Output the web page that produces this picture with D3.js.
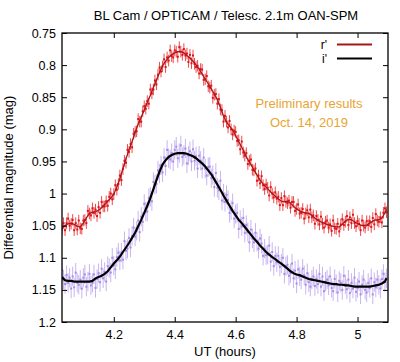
<!DOCTYPE html>
<html>
<head>
<meta charset="utf-8">
<script src="https://cdn.jsdelivr.net/npm/d3@7.9.0/dist/d3.min.js"></script>
<style>
  html, body { margin: 0; padding: 0; background: #fff; }
  svg { display: block; font-family: "Liberation Sans", Arial, sans-serif; }
</style>
</head>
<body>
<svg id="chart" width="400" height="362"></svg>
<script>
// smoothed curves, UT (hours)
const lineUT = [4.03,4.04,4.05,4.06,4.07,4.08,4.09,4.10,4.11,4.12,4.13,4.14,4.15,4.16,4.17,4.18,4.19,4.20,4.21,4.22,4.23,4.24,4.25,4.26,4.27,4.28,4.29,4.30,4.31,4.32,4.33,4.34,4.35,4.36,4.37,4.38,4.39,4.40,4.41,4.42,4.43,4.44,4.45,4.46,4.47,4.48,4.49,4.50,4.51,4.52,4.53,4.54,4.55,4.56,4.57,4.58,4.59,4.60,4.61,4.62,4.63,4.64,4.65,4.66,4.67,4.68,4.69,4.70,4.71,4.72,4.73,4.74,4.75,4.76,4.77,4.78,4.79,4.80,4.81,4.82,4.83,4.84,4.85,4.86,4.87,4.88,4.89,4.90,4.91,4.92,4.93,4.94,4.95,4.96,4.97,4.98,4.99,5.00,5.01,5.02,5.03,5.04,5.05,5.06,5.07,5.08,5.09,5.095];
const rLine = [1.053,1.050,1.047,1.046,1.048,1.051,1.052,1.046,1.038,1.031,1.029,1.028,1.026,1.022,1.017,1.012,1.007,1.001,0.990,0.977,0.961,0.946,0.932,0.919,0.905,0.892,0.881,0.870,0.858,0.847,0.835,0.823,0.812,0.801,0.794,0.788,0.784,0.781,0.779,0.779,0.781,0.785,0.789,0.794,0.800,0.806,0.814,0.822,0.829,0.837,0.845,0.854,0.866,0.879,0.889,0.895,0.901,0.910,0.919,0.928,0.938,0.947,0.955,0.963,0.971,0.979,0.985,0.990,0.995,1.000,1.004,1.008,1.012,1.013,1.012,1.015,1.020,1.024,1.027,1.029,1.030,1.031,1.034,1.038,1.042,1.044,1.046,1.048,1.050,1.051,1.052,1.052,1.048,1.043,1.040,1.041,1.044,1.047,1.049,1.050,1.049,1.046,1.043,1.041,1.041,1.038,1.030,1.024];
const iLine = [1.130,1.135,1.136,1.136,1.137,1.137,1.137,1.137,1.137,1.137,1.136,1.132,1.130,1.128,1.125,1.121,1.115,1.109,1.104,1.098,1.091,1.084,1.077,1.069,1.061,1.051,1.041,1.030,1.019,1.007,0.993,0.979,0.966,0.955,0.948,0.943,0.940,0.938,0.937,0.937,0.937,0.938,0.940,0.942,0.945,0.949,0.953,0.958,0.964,0.970,0.978,0.986,0.994,1.003,1.011,1.019,1.027,1.034,1.041,1.046,1.052,1.058,1.064,1.070,1.075,1.081,1.086,1.091,1.095,1.099,1.102,1.106,1.109,1.113,1.117,1.121,1.124,1.126,1.127,1.129,1.131,1.133,1.134,1.135,1.136,1.137,1.138,1.139,1.140,1.141,1.141,1.142,1.142,1.143,1.143,1.144,1.145,1.145,1.145,1.145,1.145,1.145,1.144,1.143,1.142,1.140,1.137,1.132,1.131];

// individual measurements
const obsUT = [4.030,4.035,4.040,4.045,4.050,4.055,4.060,4.065,4.070,4.075,4.080,4.085,4.090,4.095,4.100,4.105,4.110,4.115,4.120,4.125,
  4.130,4.135,4.140,4.145,4.150,4.155,4.160,4.165,4.170,4.175,4.180,4.185,4.190,4.195,4.200,4.205,4.210,4.215,4.220,4.225,
  4.230,4.235,4.240,4.245,4.250,4.255,4.260,4.265,4.270,4.275,4.280,4.285,4.290,4.295,4.300,4.305,4.310,4.315,4.320,4.325,
  4.330,4.335,4.340,4.345,4.350,4.355,4.360,4.365,4.370,4.375,4.380,4.385,4.390,4.395,4.400,4.405,4.410,4.415,4.420,4.425,
  4.430,4.435,4.440,4.445,4.450,4.455,4.460,4.465,4.470,4.475,4.480,4.485,4.490,4.495,4.500,4.505,4.510,4.515,4.520,4.525,
  4.530,4.535,4.540,4.545,4.550,4.555,4.560,4.565,4.570,4.575,4.580,4.585,4.590,4.595,4.600,4.605,4.610,4.615,4.620,4.625,
  4.630,4.635,4.640,4.645,4.650,4.655,4.660,4.665,4.670,4.675,4.680,4.685,4.690,4.695,4.700,4.705,4.710,4.715,4.720,4.725,
  4.730,4.735,4.740,4.745,4.750,4.755,4.760,4.765,4.770,4.775,4.780,4.785,4.790,4.795,4.800,4.805,4.810,4.815,4.820,4.825,
  4.830,4.835,4.840,4.845,4.850,4.855,4.860,4.865,4.870,4.875,4.880,4.885,4.890,4.895,4.900,4.905,4.910,4.915,4.920,4.925,
  4.930,4.935,4.940,4.945,4.950,4.955,4.960,4.965,4.970,4.975,4.980,4.985,4.990,4.995,5.000,5.005,5.010,5.015,5.020,5.025,
  5.030,5.035,5.040,5.045,5.050,5.055,5.060,5.065,5.070,5.075,5.080,5.085,5.090,5.095];
const rObs = [1.056,1.046,1.057,1.046,1.039,1.050,1.047,1.041,1.057,1.046,1.056,1.042,1.054,1.055,1.042,1.041,1.046,1.027,1.031,1.034,
  1.023,1.030,1.025,1.035,1.021,1.030,1.013,1.020,1.020,1.012,1.019,1.005,1.000,1.009,1.001,0.987,0.994,0.985,0.972,0.979,
  0.962,0.949,0.952,0.932,0.935,0.923,0.928,0.907,0.904,0.903,0.884,0.888,0.888,0.872,0.864,0.868,0.856,0.860,0.838,0.844,
  0.838,0.824,0.830,0.815,0.804,0.810,0.802,0.791,0.803,0.788,0.793,0.777,0.786,0.788,0.777,0.779,0.787,0.772,0.779,0.784,
  0.775,0.785,0.782,0.795,0.784,0.797,0.785,0.798,0.803,0.801,0.813,0.806,0.807,0.823,0.822,0.817,0.833,0.835,0.832,0.851,
  0.846,0.845,0.860,0.853,0.869,0.870,0.888,0.879,0.888,0.897,0.887,0.900,0.908,0.902,0.904,0.918,0.917,0.931,0.919,0.936,
  0.941,0.937,0.954,0.949,0.947,0.963,0.964,0.961,0.980,0.972,0.984,0.973,0.987,0.993,0.986,0.991,1.003,0.990,1.000,1.006,
  0.998,1.008,1.005,1.018,1.007,1.018,1.004,1.013,1.015,1.011,1.022,1.013,1.013,1.027,1.024,1.017,1.031,1.030,1.024,1.039,
  1.031,1.026,1.037,1.025,1.037,1.034,1.047,1.035,1.041,1.048,1.036,1.047,1.053,1.044,1.042,1.053,1.048,1.058,1.042,1.054,
  1.055,1.047,1.059,1.048,1.040,1.049,1.044,1.035,1.049,1.037,1.046,1.033,1.046,1.051,1.043,1.047,1.057,1.042,1.050,1.053,
  1.043,1.049,1.043,1.052,1.038,1.048,1.032,1.042,1.044,1.037,1.045,1.030,1.023,1.029];
const iObs = [1.119,1.134,1.141,1.127,1.139,1.131,1.148,1.129,1.146,1.123,1.139,1.142,1.134,1.148,1.131,1.126,1.145,1.137,1.125,1.143,
  1.139,1.126,1.147,1.133,1.124,1.138,1.117,1.132,1.122,1.137,1.113,1.116,1.123,1.100,1.112,1.118,1.099,1.092,1.104,1.092,
  1.103,1.074,1.089,1.086,1.069,1.084,1.066,1.053,1.067,1.058,1.042,1.060,1.036,1.044,1.016,1.028,1.028,1.007,1.005,1.012,
  0.982,0.986,0.985,0.964,0.969,0.956,0.967,0.944,0.957,0.932,0.945,0.947,0.937,0.950,0.932,0.927,0.945,0.937,0.925,0.943,
  0.940,0.930,0.953,0.941,0.934,0.950,0.931,0.949,0.942,0.961,0.941,0.949,0.961,0.944,0.961,0.972,0.959,0.958,0.976,0.971,
  0.990,0.968,0.991,0.995,0.980,1.011,1.000,1.013,1.002,1.010,1.030,1.026,1.015,1.039,1.032,1.030,1.055,1.041,1.051,1.038,
  1.061,1.049,1.060,1.076,1.056,1.070,1.076,1.061,1.075,1.086,1.070,1.078,1.097,1.086,1.096,1.095,1.081,1.106,1.091,1.113,
  1.097,1.107,1.097,1.114,1.109,1.100,1.125,1.113,1.111,1.128,1.124,1.109,1.132,1.120,1.140,1.118,1.129,1.134,1.117,1.127,
  1.142,1.124,1.138,1.145,1.134,1.129,1.144,1.133,1.141,1.125,1.145,1.129,1.152,1.137,1.134,1.143,1.129,1.147,1.152,1.133,
  1.141,1.154,1.136,1.139,1.150,1.128,1.141,1.149,1.134,1.155,1.139,1.148,1.131,1.153,1.147,1.137,1.157,1.142,1.134,1.150,
  1.154,1.139,1.147,1.132,1.157,1.138,1.146,1.134,1.142,1.148,1.133,1.125,1.138,1.132];
const rErr = 0.009;
const iErr = 0.015;

const xTicks = [4.2, 4.4, 4.6, 4.8, 5];
const xTickLabels = ['4.2', '4.4', '4.6', '4.8', '5'];
const yTicks = [0.75, 0.8, 0.85, 0.9, 0.95, 1, 1.05, 1.1, 1.15, 1.2];
const yTickLabels = ['0.75', '0.8', '0.85', '0.9', '0.95', '1', '1.05', '1.1', '1.15', '1.2'];

const svg = d3.select('#chart');
const m = { left: 62, right: 388, top: 33, bottom: 322 };

const x = d3.scaleLinear().domain([4.03, 5.1]).range([m.left, m.right]);
const y = d3.scaleLinear().domain([0.75, 1.2]).range([m.top, m.bottom]);

svg.append('defs').append('clipPath').attr('id', 'plot-clip')
  .append('rect')
  .attr('x', m.left).attr('y', m.top)
  .attr('width', m.right - m.left).attr('height', m.bottom - m.top);

// title
svg.append('text')
  .attr('x', 226).attr('y', 20)
  .attr('text-anchor', 'middle')
  .attr('font-size', 13)
  .text('BL Cam / OPTICAM / Telesc. 2.1m OAN-SPM');

const plot = svg.append('g').attr('clip-path', 'url(#plot-clip)');

function drawObs(vals, err, barColor, dotColor, barOpacity) {
  const g = plot.append('g');
  g.selectAll('line')
    .data(vals)
    .join('line')
    .attr('x1', (d, i) => x(obsUT[i]))
    .attr('x2', (d, i) => x(obsUT[i]))
    .attr('y1', d => y(d - err))
    .attr('y2', d => y(d + err))
    .attr('stroke', barColor)
    .attr('stroke-opacity', barOpacity)
    .attr('stroke-width', 1);
  g.selectAll('rect')
    .data(vals)
    .join('rect')
    .attr('x', (d, i) => x(obsUT[i]) - 1)
    .attr('y', d => y(d) - 1)
    .attr('width', 2)
    .attr('height', 2)
    .attr('fill', dotColor);
}

drawObs(iObs, iErr, '#bda8f0', '#a98ae6', 0.85);
drawObs(rObs, rErr, '#ec2a2e', '#e01418', 0.85);

const line = d3.line()
  .x((d, i) => x(lineUT[i]))
  .y(d => y(d));

plot.append('path')
  .attr('d', line(rLine))
  .attr('fill', 'none')
  .attr('stroke', '#a5171c')
  .attr('stroke-width', 1.3);

plot.append('path')
  .attr('d', line(iLine))
  .attr('fill', 'none')
  .attr('stroke', '#000')
  .attr('stroke-width', 2.2);

// axes, gnuplot style: inward ticks on every side
const fmtX = d => xTickLabels[xTicks.indexOf(d)];
const fmtY = d => yTickLabels[yTicks.indexOf(d)];

const axB = svg.append('g').attr('transform', `translate(0,${m.bottom})`)
  .call(d3.axisBottom(x).tickValues(xTicks).tickFormat(fmtX).tickSize(-5).tickPadding(8));
const axT = svg.append('g').attr('transform', `translate(0,${m.top})`)
  .call(d3.axisTop(x).tickValues(xTicks).tickFormat('').tickSize(-5));
const axL = svg.append('g').attr('transform', `translate(${m.left},0)`)
  .call(d3.axisLeft(y).tickValues(yTicks).tickFormat(fmtY).tickSize(-5).tickPadding(6));
const axR = svg.append('g').attr('transform', `translate(${m.right},0)`)
  .call(d3.axisRight(y).tickValues(yTicks).tickFormat('').tickSize(-5));

[axB, axT, axL, axR].forEach(a => {
  a.select('.domain').remove();
  a.selectAll('.tick line').attr('stroke', '#000').attr('stroke-width', 1);
  a.selectAll('.tick text')
    .attr('fill', '#000')
    .attr('font-size', 12.5)
    .attr('font-family', '"Liberation Sans", Arial, sans-serif');
});

svg.append('rect')
  .attr('x', m.left).attr('y', m.top)
  .attr('width', m.right - m.left).attr('height', m.bottom - m.top)
  .attr('fill', 'none')
  .attr('stroke', '#000')
  .attr('stroke-width', 1.3);

// axis titles
svg.append('text')
  .attr('x', 225).attr('y', 356)
  .attr('text-anchor', 'middle')
  .attr('font-size', 13)
  .text('UT (hours)');

svg.append('text')
  .attr('transform', `translate(13,${(m.top + m.bottom) / 2}) rotate(-90)`)
  .attr('text-anchor', 'middle')
  .attr('font-size', 13)
  .text('Differential magnitude (mag)');

// legend
const legend = [
  { label: "r'", color: '#a5171c', y: 44.5 },
  { label: "i'", color: '#000', y: 58.5 }
];
legend.forEach(l => {
  svg.append('text')
    .attr('x', 327).attr('y', l.y + 4)
    .attr('text-anchor', 'end')
    .attr('font-size', 12)
    .text(l.label);
  svg.append('line')
    .attr('x1', 337).attr('x2', 372)
    .attr('y1', l.y).attr('y2', l.y)
    .attr('stroke', l.color)
    .attr('stroke-width', 2);
});

// note
svg.append('text')
  .attr('x', 309).attr('y', 108)
  .attr('text-anchor', 'middle')
  .attr('font-size', 13)
  .attr('fill', '#e8a531')
  .text('Preliminary results');
svg.append('text')
  .attr('x', 309).attr('y', 127)
  .attr('text-anchor', 'middle')
  .attr('font-size', 13)
  .attr('fill', '#e8a531')
  .text('Oct. 14, 2019');
</script>
</body>
</html>
